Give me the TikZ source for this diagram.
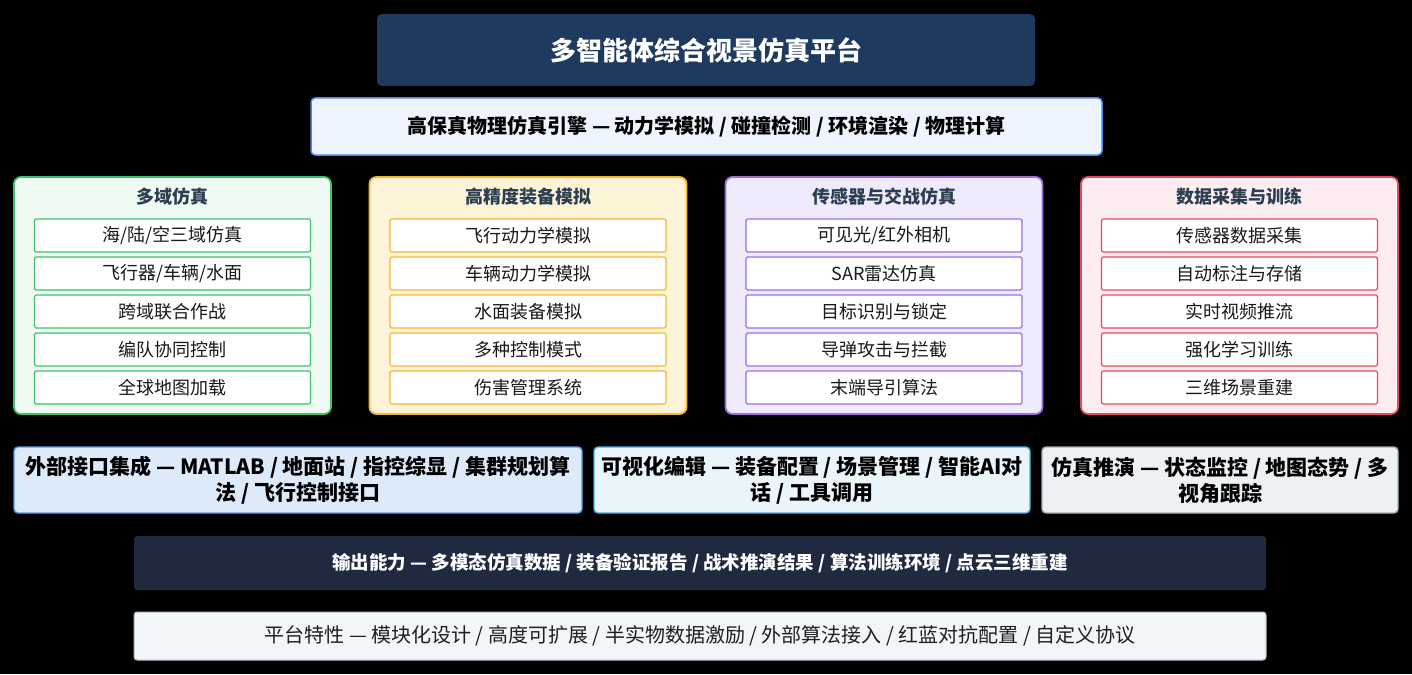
\documentclass[tikz,border=0pt]{standalone}
\usepackage{fontspec}
\setmainfont{Noto Sans CJK SC}
\usetikzlibrary{positioning}
\usepackage{xcolor}
\definecolor{navy}{HTML}{1F3A5F}
\definecolor{outnavy}{HTML}{1F2A40}
\definecolor{ink}{HTML}{2C3E50}
\definecolor{engfill}{HTML}{EEF4FD}
\definecolor{engline}{HTML}{4A88E6}
\definecolor{grnline}{HTML}{3CC36B}
\definecolor{grnfill}{HTML}{EFFAF2}
\definecolor{ylwline}{HTML}{F5B731}
\definecolor{ylwfill}{HTML}{FDF4D7}
\definecolor{prpline}{HTML}{9B6FE3}
\definecolor{prpfill}{HTML}{EFEBFC}
\definecolor{redline}{HTML}{E8495F}
\definecolor{redfill}{HTML}{FDEDF0}
\definecolor{extfill}{HTML}{DDEAFA}
\definecolor{extline}{HTML}{5B9BE3}
\definecolor{visfill}{HTML}{E9F4FB}
\definecolor{visline}{HTML}{3DB1E3}
\definecolor{runfill}{HTML}{EEF1F4}
\definecolor{runline}{HTML}{A3ABB4}
\definecolor{featfill}{HTML}{F2F5F9}
\definecolor{featline}{HTML}{B4BAC2}

\begin{document}
\begin{tikzpicture}[x=1pt, y=-1pt,
        box/.style={rounded corners=4pt, inner sep=0pt, outer sep=0pt, align=center},
        panel/.style={box, draw=#1line, fill=#1fill, rounded corners=7pt, line width=1.8pt, minimum width=317pt, minimum height=237pt},
        ptitle/.style={inner sep=0pt, text=ink, font=\fontsize{18}{22}\selectfont\bfseries},
        item/.style={draw=#1line, fill=white, line width=1.1pt, rounded corners=1.5pt, inner sep=0pt, outer sep=0pt, minimum width=276pt, minimum height=33pt, text=black!90, font=\fontsize{18}{22}\selectfont},
        band/.style={box, draw=#1line, fill=#1fill, line width=1.4pt, minimum height=66pt, font=\fontsize{21}{26}\selectfont\bfseries}]
        \fill[black] (0, 0) rectangle (1412, 674);
        \useasboundingbox (0, 0) rectangle (1412, 674);

        % top
        \node[box, fill=navy, rounded corners=5pt, minimum width=658pt, minimum height=72pt, text=white, font=\fontsize{26}{30}\selectfont\bfseries] (title) at (706, 50) {多智能体综合视景仿真平台};
        \node[box, draw=engline, fill=engfill, line width=1.5pt, minimum width=791pt, minimum height=57pt, font=\fontsize{20}{24}\selectfont\bfseries] (engine) at (706.5, 126.5) {高保真物理仿真引擎 — 动力学模拟 / 碰撞检测 / 环境渲染 / 物理计算};

        % panels
        \node[panel=grn] (sim) at (172.5, 295.5) {};
        \node[ptitle] (simt) at (172.5, 197) {多域仿真};
        \node[item=grn] (sim1) at (172.5, 235.5) {海/陆/空三域仿真};
        \node[item=grn] (sim2) [below=5pt of sim1] {飞行器/车辆/水面};
        \node[item=grn] (sim3) [below=5pt of sim2] {跨域联合作战};
        \node[item=grn] (sim4) [below=5pt of sim3] {编队协同控制};
        \node[item=grn] (sim5) [below=5pt of sim4] {全球地图加载};

        \node[panel=ylw] (equip) at (528, 295.5) {};
        \node[ptitle] (equipt) at (528, 197) {高精度装备模拟};
        \node[item=ylw] (equip1) at (528, 235.5) {飞行动力学模拟};
        \node[item=ylw] (equip2) [below=5pt of equip1] {车辆动力学模拟};
        \node[item=ylw] (equip3) [below=5pt of equip2] {水面装备模拟};
        \node[item=ylw] (equip4) [below=5pt of equip3] {多种控制模式};
        \node[item=ylw] (equip5) [below=5pt of equip4] {伤害管理系统};

        \node[panel=prp] (sens) at (884, 295.5) {};
        \node[ptitle] (senst) at (884, 197) {传感器与交战仿真};
        \node[item=prp] (sens1) at (884, 235.5) {可见光/红外相机};
        \node[item=prp] (sens2) [below=5pt of sens1] {SAR雷达仿真};
        \node[item=prp] (sens3) [below=5pt of sens2] {目标识别与锁定};
        \node[item=prp] (sens4) [below=5pt of sens3] {导弹攻击与拦截};
        \node[item=prp] (sens5) [below=5pt of sens4] {末端导引算法};

        \node[panel=red] (data) at (1239.5, 295.5) {};
        \node[ptitle] (datat) at (1239.5, 197) {数据采集与训练};
        \node[item=red] (data1) at (1239.5, 235.5) {传感器数据采集};
        \node[item=red] (data2) [below=5pt of data1] {自动标注与存储};
        \node[item=red] (data3) [below=5pt of data2] {实时视频推流};
        \node[item=red] (data4) [below=5pt of data3] {强化学习训练};
        \node[item=red] (data5) [below=5pt of data4] {三维场景重建};

        % middle row
        \node[band=ext, minimum width=568pt] (ext) at (298, 480) {外部接口集成 — MATLAB / 地面站 / 指控综显 / 集群规划算\\法 / 飞行控制接口};
        \node[band=vis, minimum width=436pt] (vis) at (812, 480) {可视化编辑 — 装备配置 / 场景管理 / 智能AI对\\话 / 工具调用};
        \node[band=run, minimum width=356pt] (run) at (1220, 480) {仿真推演 — 状态监控 / 地图态势 / 多\\视角跟踪};

        % bottom
        \node[box, fill=outnavy, rounded corners=3pt, minimum width=1132pt, minimum height=54pt, text=white, font=\fontsize{18.5}{22}\selectfont\bfseries] (out) at (700, 563) {输出能力 — 多模态仿真数据 / 装备验证报告 / 战术推演结果 / 算法训练环境 / 点云三维重建};
        \node[box, draw=featline, fill=featfill, line width=1pt, rounded corners=3pt, minimum width=1132pt, minimum height=48pt, text=black!88, font=\fontsize{20}{24}\selectfont] (feat) at (700, 636) {平台特性 — 模块化设计 / 高度可扩展 / 半实物数据激励 / 外部算法接入 / 红蓝对抗配置 / 自定义协议};
    \end{tikzpicture}
\end{document}
